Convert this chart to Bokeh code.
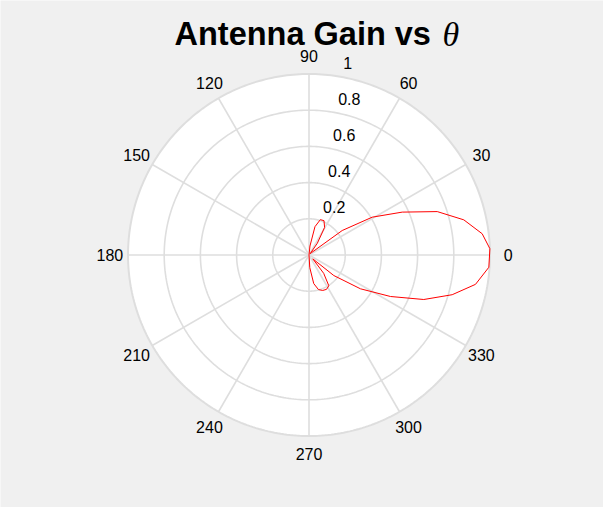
import numpy as np
from bokeh.plotting import figure
from bokeh.models import Range1d, Label, ColumnDataSource
from bokeh.embed import file_html
from bokeh.resources import INLINE

# ---- data ----
theta_deg = [-92.3, -86.4, -80.6, -74.7, -68.9, -63.0, -57.2, -51.3, -45.5,
             -39.6, -33.3, -27.0, -21.2, -15.5, -10.0, -3.9, 2.0, 7.0, 12.8,
             18.7, 24.7, 30.9, 36.4, 43.0, 48.8, 54.7, 60.5, 66.4, 72.2, 78.1,
             83.9, 89.7]
gain = [0.0, 0.07, 0.16, 0.198, 0.21, 0.213, 0.202, 0.13, 0.03,
        0.178, 0.340, 0.505, 0.680, 0.821, 0.934, 0.996, 1.0, 0.964, 0.877,
        0.748, 0.567, 0.407, 0.228, 0.02, 0.01, 0.08, 0.175, 0.207, 0.205, 0.16,
        0.05, 0.0]
angle_ticks = [0, 30, 60, 90, 120, 150, 180, 210, 240, 270, 300, 330]
angle_labels = ["0", "30", "60", "90", "120", "150", "180", "210", "240", "270", "300", "330"]
r_ticks = [0.2, 0.4, 0.6, 0.8, 1.0]
r_labels = ["0.2", "0.4", "0.6", "0.8", "1"]
title_text = "Antenna Gain vs "
title_sym = "θ"

W, H = 603, 507
R = 181.0          # pixels per unit radius
cx, cy = 308.5, 254.5  # centre in pixels from top-left

p = figure(width=W, height=H, output_backend="svg", toolbar_location=None,
           x_range=Range1d(-cx / R, (W - cx) / R),
           y_range=Range1d(-(H - cy) / R, cy / R),
           min_border=0, min_border_left=0, min_border_right=0,
           min_border_top=0, min_border_bottom=0)
p.axis.visible = False
p.xgrid.visible = False
p.ygrid.visible = False
p.outline_line_color = None
p.background_fill_color = "#f0f0f0"
p.border_fill_color = "#f0f0f0"

# white polar area
p.ellipse(x=0, y=0, width=2, height=2, fill_color="white", line_color=None)

# rings
phi = np.linspace(0, 2 * np.pi, 361)
for r in r_ticks:
    p.line(r * np.cos(phi), r * np.sin(phi), line_color="#dedede",
           line_width=1.6 if r < 1 else 2)

# spokes
for a in angle_ticks:
    t = np.deg2rad(a)
    p.line([0, np.cos(t)], [0, np.sin(t)], line_color="#dedede", line_width=1.6)

# gain curve
th = np.deg2rad(np.array(theta_deg))
g = np.array(gain)
src = ColumnDataSource(dict(x=g * np.cos(th), y=g * np.sin(th)))
p.line("x", "y", source=src, line_color="red", line_width=1)

# angle labels
ta = np.deg2rad(np.array(angle_ticks))
lab_src = ColumnDataSource(dict(x=1.1 * np.cos(ta), y=1.1 * np.sin(ta), t=angle_labels))
p.text("x", "y", text="t", source=lab_src, text_align="center",
       text_baseline="middle", text_font_size="16px", text_color="black",
       text_font={"value": "Liberation Sans"})

# radial labels
ra = np.deg2rad(82)
rl_src = ColumnDataSource(dict(x=np.array(r_ticks) * np.cos(ra),
                               y=np.array(r_ticks) * np.sin(ra), t=r_labels))
p.text("x", "y", text="t", source=rl_src, text_align="left",
       text_baseline="middle", text_font_size="16px", text_color="black",
       x_offset=9, y_offset=-12.5, text_font={"value": "Liberation Sans"})

# title
p.add_layout(Label(x=174, y=H - 33.5, x_units="screen", y_units="screen",
                   text=title_text, text_font="Liberation Sans",
                   text_font_style="bold", text_font_size="32.5px",
                   text_color="black", text_baseline="alphabetic"))
p.add_layout(Label(x=442, y=H - 33.5, x_units="screen", y_units="screen",
                   text=title_sym, text_font="Liberation Serif",
                   text_font_style="italic", text_font_size="34px",
                   text_color="black", text_baseline="alphabetic"))

open("out.html", "w").write(file_html(p, INLINE))
